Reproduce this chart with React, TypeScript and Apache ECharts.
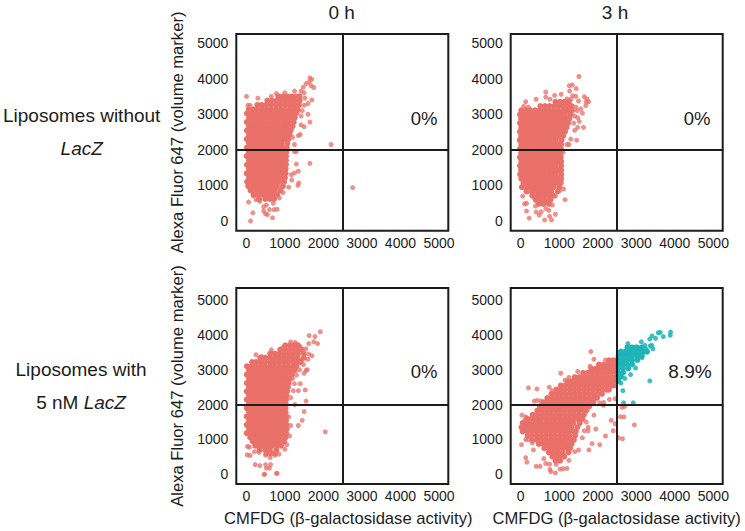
import React, { useEffect, useRef } from "react";
import * as echarts from "echarts";

type Rows = [number, number[]][];

const tickValues = [0, 1000, 2000, 3000, 4000, 5000];
const gateX = 2500;
const gateY = 2000;
const columnTitles = ["0 h", "3 h"];
const xAxisTitle = "CMFDG (β-galactosidase activity)";
const yAxisTitle = "Alexa Fluor 647 (volume marker)";
const percentages = ["0%", "0%", "0%", "8.9%"];

const withoutLacZ0hCore: Rows = [
  [3500, [830, 940, 1065, 1175, 1290, 1385]],
  [3380, [545, 660, 785, 900, 1020, 1145, 1260, 1385]],
  [3260, [285, 400, 515, 640, 765, 880, 1005, 1120, 1240, 1365]],
  [3140, [65, 175, 290, 410, 530, 650, 770, 890, 1010, 1130, 1250, 1325]],
  [3020, [15, 130, 250, 375, 490, 610, 730, 850, 970, 1090, 1210, 1290]],
  [2900, [70, 190, 310, 430, 550, 670, 795, 910, 1030, 1150, 1260]],
  [2780, [10, 130, 255, 370, 490, 615, 730, 850, 975, 1090, 1230]],
  [2660, [65, 190, 310, 435, 550, 670, 790, 915, 1030, 1150, 1200]],
  [2540, [15, 130, 250, 370, 495, 610, 730, 855, 970, 1090, 1150]],
  [2420, [70, 190, 310, 430, 550, 675, 790, 910, 1030, 1120]],
  [2300, [10, 130, 250, 375, 490, 610, 735, 850, 970, 1090]],
  [2180, [70, 190, 315, 430, 550, 670, 790, 915, 1060]],
  [2060, [15, 130, 250, 370, 490, 610, 730, 855, 970, 1050]],
  [1940, [65, 190, 310, 430, 555, 670, 790, 910, 1040]],
  [1820, [10, 135, 250, 370, 490, 610, 730, 850, 970, 1030]],
  [1700, [70, 190, 310, 435, 550, 670, 795, 910, 1030]],
  [1580, [15, 130, 250, 370, 490, 615, 730, 850, 970, 1030]],
  [1460, [70, 190, 315, 430, 550, 670, 790, 910, 1020]],
  [1340, [10, 130, 250, 370, 495, 610, 730, 855, 970, 1020]],
  [1220, [70, 195, 310, 430, 550, 670, 790, 910, 1000]],
  [1100, [20, 130, 250, 375, 490, 610, 735, 850, 980]],
  [980, [50, 190, 310, 430, 550, 675, 790, 950]],
  [860, [110, 250, 370, 490, 610, 730, 880]],
  [740, [190, 310, 435, 550, 670, 800]],
  [620, [330, 490, 610, 720]],
];
const withoutLacZ0hSparse: [number, number][] = [
  [1650, 4020], [1700, 3980], [1550, 3860], [1630, 3900], [1750, 3750], [1680, 3800], [1480, 3760], [1420, 3650], [1500, 3600],
  [1700, 3400], [1600, 3300], [1520, 3450], [1600, 3000], [1650, 2780], [1400, 2430], [1350, 2400], [1500, 2650], [1420, 2700],
  [1250, 2150], [1250, 1950], [1300, 1950], [2200, 2150], [1650, 1620], [1300, 1600], [1350, 1400], [1250, 1350], [1360, 1070],
  [1340, 1000], [1180, 1150], [1450, 3100], [1500, 3250], [1420, 2950], [1350, 3100], [2760, 940], [5, 3500], [300, 3450],
  [40, 3250], [100, 3250], [60, 530], [180, 700], [170, 230], [110, 0], [500, 200], [550, 180], [680, 90], [800, 330],
  [720, 320], [450, 280], [600, 320], [350, 550], [450, 400], [860, 650], [950, 800], [250, 600], [520, 450], [700, 500],
  [1100, 950], [1170, 1300], [1120, 2500], [1200, 2350], [780, 3580], [650, 3500], [1000, 3600], [1250, 3650],
];

const withoutLacZ3hCore: Rows = [
  [3350, [900, 1020, 1140, 1250]],
  [3230, [510, 630, 750, 870, 990, 1110, 1230, 1320]],
  [3110, [15, 130, 250, 370, 490, 615, 730, 850, 970, 1095, 1210, 1320]],
  [2990, [-20, 70, 190, 310, 430, 550, 670, 790, 915, 1030, 1150, 1290]],
  [2870, [10, 130, 250, 375, 490, 610, 730, 855, 970, 1090, 1210, 1265]],
  [2750, [-20, 70, 190, 310, 430, 550, 675, 790, 910, 1030, 1150, 1230]],
  [2630, [15, 130, 255, 370, 490, 610, 730, 850, 970, 1090, 1190]],
  [2510, [-20, 70, 190, 310, 435, 550, 670, 795, 910, 1030, 1150]],
  [2390, [10, 130, 250, 370, 490, 615, 730, 850, 975, 1100]],
  [2270, [-25, 70, 190, 315, 430, 550, 670, 790, 910, 1060]],
  [2150, [15, 130, 250, 370, 495, 610, 730, 855, 970, 1050]],
  [2030, [-20, 70, 195, 310, 430, 550, 675, 790, 910, 1040]],
  [1910, [10, 130, 250, 375, 490, 610, 730, 850, 970, 1030]],
  [1790, [-20, 70, 190, 310, 430, 555, 670, 790, 915, 1040]],
  [1670, [15, 130, 250, 370, 490, 610, 735, 850, 970, 1050]],
  [1550, [-20, 70, 190, 315, 430, 550, 670, 795, 910, 1050]],
  [1430, [10, 130, 255, 370, 490, 610, 730, 850, 970, 1050]],
  [1310, [-15, 70, 190, 310, 435, 550, 670, 790, 910, 1050]],
  [1190, [15, 130, 250, 370, 490, 615, 730, 855, 970, 1050]],
  [1070, [70, 190, 310, 430, 550, 670, 790, 910, 1040]],
  [950, [30, 130, 250, 375, 490, 610, 730, 850, 1000]],
  [830, [150, 310, 430, 550, 670, 790, 960]],
  [710, [300, 430, 490, 610, 730, 850]],
  [590, [390, 520, 640, 770]],
  [480, [470, 590, 730]],
];
const withoutLacZ3hSparse: [number, number][] = [
  [1510, 4060], [1260, 3800], [1340, 3820], [1440, 3720], [1270, 3650], [1430, 3500], [1350, 3520], [1300, 3420], [1650, 3490],
  [1720, 3430], [1700, 3350], [1760, 3350], [1690, 3240], [1500, 3370], [1430, 3200], [1470, 3100], [1560, 3150], [1600, 3030],
  [1480, 2900], [1520, 2800], [1630, 2630], [1480, 2630], [1400, 2550], [1450, 2270], [1300, 2300], [1200, 2150], [1250, 2150],
  [1100, 1930], [650, 3620], [400, 3420], [650, 3480], [880, 3530], [1050, 3560], [130, 3350], [200, 3200], [1150, 600],
  [900, 700], [50, 700], [100, 480], [150, 500], [150, 280], [220, 80], [380, 420], [400, 250], [480, 170], [620, 30],
  [750, 130], [800, 30], [900, 190], [730, 300], [530, 260], [350, 650], [200, 830], [300, 800], [650, 350], [1400, 2950],
  [1380, 2750], [1350, 3100], [1200, 3430], [760, 3420], [80, 3220], [1110, 900], [1000, 850], [820, 450],
];

const withLacZ0hCore: Rows = [
  [3700, [1010, 1130, 1250, 1340]],
  [3580, [880, 1000, 1120, 1240, 1360, 1440]],
  [3460, [620, 740, 860, 980, 1100, 1220, 1340, 1490]],
  [3340, [360, 490, 610, 730, 850, 970, 1090, 1210, 1330, 1490]],
  [3220, [150, 250, 370, 490, 615, 730, 855, 970, 1090, 1210, 1330, 1400]],
  [3100, [15, 130, 250, 370, 490, 610, 730, 850, 970, 1090, 1210, 1300]],
  [2980, [70, 190, 310, 430, 550, 670, 790, 910, 1030, 1150, 1250]],
  [2860, [10, 130, 250, 370, 495, 610, 730, 850, 970, 1090, 1180]],
  [2740, [70, 190, 315, 430, 550, 670, 790, 915, 1030, 1120]],
  [2620, [10, 130, 250, 375, 490, 610, 735, 850, 970, 1100]],
  [2500, [70, 190, 310, 430, 555, 675, 790, 910, 1030, 1080]],
  [2380, [10, 130, 255, 370, 490, 610, 730, 855, 970, 1060]],
  [2260, [70, 190, 310, 435, 550, 670, 795, 910, 1040]],
  [2140, [10, 130, 250, 370, 490, 615, 730, 850, 970, 1030]],
  [2020, [70, 190, 315, 430, 550, 670, 790, 910, 1020]],
  [1900, [10, 130, 250, 375, 495, 610, 730, 850, 970, 1020]],
  [1780, [70, 190, 310, 430, 550, 675, 790, 915, 1020]],
  [1660, [10, 130, 255, 370, 490, 610, 735, 850, 970, 1020]],
  [1540, [70, 190, 310, 435, 550, 670, 790, 910, 1030]],
  [1420, [10, 130, 250, 370, 495, 610, 730, 855, 970, 1040]],
  [1300, [70, 190, 315, 430, 550, 670, 790, 910, 1050]],
  [1180, [10, 130, 250, 375, 490, 615, 730, 850, 970, 1030]],
  [1060, [100, 190, 310, 430, 550, 670, 790, 910, 1010]],
  [940, [170, 250, 370, 490, 610, 730, 855, 980]],
  [820, [230, 310, 430, 550, 670, 790, 900]],
  [700, [340, 490, 610, 780]],
  [600, [520, 640, 740]],
];
const withLacZ0hSparse: [number, number][] = [
  [1630, 3980], [1920, 4090], [1780, 3950], [1750, 3800], [1850, 3750], [1620, 3750], [1620, 3450], [1700, 3400], [1600, 3300],
  [1550, 2980], [1500, 2900], [1580, 3000], [1400, 2600], [1250, 2600], [1530, 2420], [1350, 2400], [1220, 2400], [1550, 2100],
  [1260, 2000], [1500, 1800], [1450, 1550], [1350, 1400], [2050, 1220], [1100, 1650], [1150, 1400], [250, 3430], [650, 3570],
  [950, 3640], [30, 800], [80, 780], [20, 560], [100, 540], [210, 650], [330, 630], [230, 280], [350, 250], [500, 280],
  [630, 280], [520, 180], [460, 0], [480, 0], [780, 30], [800, 30], [500, 550], [620, 480], [750, 550], [850, 580], [1000, 720],
  [600, 180], [1550, 3600], [1400, 3660], [1270, 3780], [1150, 3800], [1480, 3150], [1300, 2850], [1200, 2750], [1150, 2200],
  [1120, 1100], [150, 1000], [80, 3020], [400, 3380], [1050, 850], [1380, 3000], [1440, 3280],
];

const withLacZ3hCore: Rows = [
  [3270, [2290, 2400, 2480]],
  [3150, [2030, 2150, 2270, 2390, 2480]],
  [3030, [1830, 1950, 2070, 2190, 2310, 2430, 2480]],
  [2910, [1620, 1740, 1860, 1980, 2100, 2220, 2340, 2470]],
  [2790, [1400, 1520, 1640, 1760, 1880, 2000, 2120, 2240, 2360, 2480]],
  [2670, [1220, 1340, 1460, 1580, 1700, 1820, 1940, 2060, 2180, 2300, 2420, 2490]],
  [2550, [1040, 1160, 1280, 1400, 1520, 1640, 1760, 1880, 2000, 2120, 2240, 2360, 2420]],
  [2430, [920, 1030, 1150, 1270, 1390, 1510, 1630, 1750, 1870, 1990, 2110, 2230, 2290]],
  [2310, [810, 930, 1050, 1170, 1290, 1410, 1530, 1650, 1770, 1890, 2010, 2110]],
  [2190, [690, 820, 940, 1060, 1180, 1300, 1420, 1540, 1660, 1780, 1900, 1980]],
  [2070, [590, 710, 830, 950, 1070, 1190, 1310, 1430, 1550, 1670, 1790, 1880]],
  [1950, [500, 620, 740, 860, 980, 1100, 1220, 1340, 1460, 1580, 1700, 1780]],
  [1830, [430, 550, 670, 790, 910, 1030, 1150, 1270, 1390, 1510, 1630, 1700]],
  [1710, [310, 430, 550, 670, 790, 910, 1030, 1150, 1270, 1390, 1510, 1640]],
  [1590, [170, 290, 410, 530, 650, 770, 890, 1010, 1130, 1250, 1370, 1490, 1600]],
  [1470, [50, 170, 290, 410, 530, 650, 770, 890, 1010, 1130, 1250, 1370, 1530]],
  [1350, [20, 110, 230, 350, 470, 590, 710, 830, 950, 1070, 1190, 1310, 1470]],
  [1230, [50, 170, 290, 410, 530, 650, 770, 890, 1010, 1130, 1250, 1370, 1430]],
  [1110, [180, 300, 420, 540, 660, 780, 900, 1020, 1140, 1260, 1410]],
  [990, [300, 420, 540, 660, 780, 900, 1020, 1140, 1260, 1380]],
  [870, [470, 590, 710, 830, 950, 1070, 1190, 1320]],
  [750, [610, 730, 850, 970, 1090, 1210, 1280]],
  [630, [730, 850, 970, 1090, 1240]],
  [510, [820, 940, 1060, 1130]],
  [390, [900, 1020]],
];
const withLacZ3hSparse: [number, number][] = [
  [1820, 3520], [1900, 3300], [2200, 3280], [1800, 3100], [1040, 2900], [200, 2480], [420, 2450], [740, 2500], [810, 2400],
  [780, 2300], [1150, 2700], [1250, 2780], [1480, 2950], [2630, 1920], [2700, 1950], [2590, 1650], [2680, 1650], [2350, 1550],
  [2450, 1450], [2400, 1250], [2530, 1050], [2640, 1020], [2950, 1420], [2200, 1100], [2050, 850], [1850, 880], [1750, 1250],
  [1950, 1300], [1650, 1250], [1750, 1350], [1770, 700], [1500, 700], [130, 1650], [100, 1550], [30, 1700], [20, 850],
  [130, 1000], [130, 480], [160, 350], [400, 230], [500, 230], [600, 450], [650, 310], [750, 290], [760, 140], [780, 80],
  [900, 40], [920, 290], [1020, 150], [1100, 160], [1200, 170], [1250, 400], [1400, 650], [1350, 1000], [1600, 1050],
  [350, 2100], [520, 2100], [430, 2120], [2050, 2050], [2150, 2060], [2450, 2170], [2300, 2150], [2150, 1980], [1900, 1700],
  [1700, 1500], [300, 900], [200, 1000], [330, 700],
];

const withLacZ3hPositiveCore: Rows = [
  [3640, [2770, 2890, 3010, 3140]],
  [3520, [2600, 2720, 2840, 2960, 3080, 3200, 3280]],
  [3400, [2540, 2660, 2780, 2900, 3020, 3140]],
  [3280, [2530, 2650, 2770, 2890, 3030]],
  [3160, [2530, 2640, 2760, 2890]],
  [3040, [2530, 2650, 2790]],
  [2920, [2530, 2660]],
  [2800, [2530, 2600]],
  [2680, [2530]],
];
const withLacZ3hPositiveSparse: [number, number][] = [
  [3620, 4070], [3570, 4060], [3890, 4080], [3880, 3990], [3700, 3950], [3410, 3970], [3350, 3880], [3500, 3900], [3130, 3800],
  [3220, 3700], [3360, 3680], [3430, 3600], [2780, 3750], [3350, 2680], [2650, 2400], [2670, 2050], [2920, 2050], [3100, 3560],
  [3000, 3650], [3250, 3600], [3400, 3700], [3150, 3350], [2980, 3050], [2850, 2860], [2700, 2750], [2600, 2620],
];

const expand = (rows: Rows) => rows.flatMap(([y, xs]) => xs.map((x) => [x, y]));

const FONT = "'Liberation Sans', Arial, sans-serif";
const INK = "#1c1c1c";
const RED = "#E9716A";
const TEAL = "#1FB4B8";

const panelBoxes = [
  { left: 236.3, top: 34, yMin: -272, yMax: 5253 },
  { left: 510.7, top: 34, yMin: -272, yMax: 5253 },
  { left: 236.3, top: 288, yMin: -277, yMax: 5344 },
  { left: 510.7, top: 288, yMin: -277, yMax: 5344 },
];
const PANEL_W = 212;
const PANEL_H = [196.7, 196.7, 196, 196];

const dots = (name: string, data: number[][], color: string, opacity: number, size: number, z: number, gates = false) => ({
  type: "scatter",
  name,
  data,
  symbolSize: size,
  itemStyle: { color, opacity },
  z,
  silent: true,
  ...(gates
    ? {
        markLine: {
          silent: true,
          symbol: "none",
          label: { show: false },
          lineStyle: { color: INK, width: 2, type: "solid", opacity: 1 },
          data: [{ xAxis: gateX }, { yAxis: gateY }],
          z: 10,
        },
      }
    : {}),
});

export default function App() {
  const ref = useRef<HTMLDivElement>(null);
  useEffect(() => {
    const chart = echarts.init(ref.current!, undefined, { renderer: "svg" });
    const grid = panelBoxes.map((b, i) => ({
      show: true,
      left: b.left,
      top: b.top,
      width: PANEL_W,
      height: PANEL_H[i],
      borderColor: INK,
      borderWidth: 2,
      backgroundColor: "transparent",
    }));
    const axisLabelBase = {
      color: INK,
      fontFamily: FONT,
      fontSize: 14,
      customValues: tickValues,
      formatter: (v: number) => String(v),
    };
    const xAxis = panelBoxes.map((_, i) => ({
      type: "value",
      gridIndex: i,
      min: -260,
      max: 5242,
      splitLine: { show: false },
      axisLine: { show: false },
      axisTick: { show: false },
      axisLabel: { ...axisLabelBase, margin: 5, hideOverlap: false, showMinLabel: true, showMaxLabel: true },
      ...(i >= 2
        ? {
            name: xAxisTitle,
            nameLocation: "middle",
            nameGap: 26,
            nameTextStyle: { color: INK, fontFamily: FONT, fontSize: 16.6, padding: i === 2 ? [0, 0, 0, 12] : 0 },
          }
        : {}),
    }));
    const yAxis = panelBoxes.map((b, i) => ({
      type: "value",
      gridIndex: i,
      min: b.yMin,
      max: b.yMax,
      splitLine: { show: false },
      axisLine: { show: false },
      axisTick: { show: false },
      axisLabel: { ...axisLabelBase, margin: 8, hideOverlap: false },
      ...(i % 2 === 0
        ? {
            name: yAxisTitle,
            nameLocation: "middle",
            nameGap: 50,
            nameRotate: 90,
            nameTextStyle: { color: INK, fontFamily: FONT, fontSize: 16.6 },
          }
        : {}),
    }));
    const groups = [
      [dots("sparse", withoutLacZ0hSparse, RED, 0.78, 5, 2), dots("core", expand(withoutLacZ0hCore), RED, 1, 6, 3, true)],
      [dots("sparse", withoutLacZ3hSparse, RED, 0.78, 5, 2), dots("core", expand(withoutLacZ3hCore), RED, 1, 6, 3, true)],
      [dots("sparse", withLacZ0hSparse, RED, 0.78, 5, 2), dots("core", expand(withLacZ0hCore), RED, 1, 6, 3, true)],
      [
        dots("sparse", withLacZ3hSparse, RED, 0.78, 5, 2),
        dots("core", expand(withLacZ3hCore), RED, 1, 6, 3),
        dots("positive sparse", withLacZ3hPositiveSparse, TEAL, 0.85, 5, 2),
        dots("positive core", expand(withLacZ3hPositiveCore), TEAL, 1, 6, 3, true),
      ],
    ];
    const series = groups.flatMap((g, i) => g.map((s) => ({ ...s, xAxisIndex: i, yAxisIndex: i })));
    const textStyle = (size: number) => ({ fill: INK, fontFamily: FONT, fontSize: size, textAlign: "center", textVerticalAlign: "middle" });
    const label = (x: number, y: number, text: string, size: number, extra = {}) => ({
      type: "text",
      x,
      y,
      style: { ...textStyle(size), text, ...extra },
    });
    const italic = { rich: { i: { fontStyle: "italic", fontFamily: FONT, fontSize: 19, fill: INK } } };
    chart.setOption({
      animation: false,
      backgroundColor: "#fff",
      grid,
      xAxis,
      yAxis,
      series,
      graphic: [
        label(341.7, 12, columnTitles[0], 19),
        label(615, 12, columnTitles[1], 19),
        label(81.7, 115, "Liposomes without", 19),
        label(81.7, 148, "{i|LacZ}", 19, italic),
        label(81, 369, "Liposomes with", 19),
        label(81, 402, "5 nM {i|LacZ}", 19, italic),
        label(424, 118, percentages[0], 18.5),
        label(697, 118, percentages[1], 18.5),
        label(424, 371, percentages[2], 18.5),
        label(690, 371, percentages[3], 19),
      ],
    });
    return () => chart.dispose();
  }, []);
  return <div ref={ref} style={{ position: "absolute", left: 0, top: 0, width: 745, height: 531 }} />;
}
